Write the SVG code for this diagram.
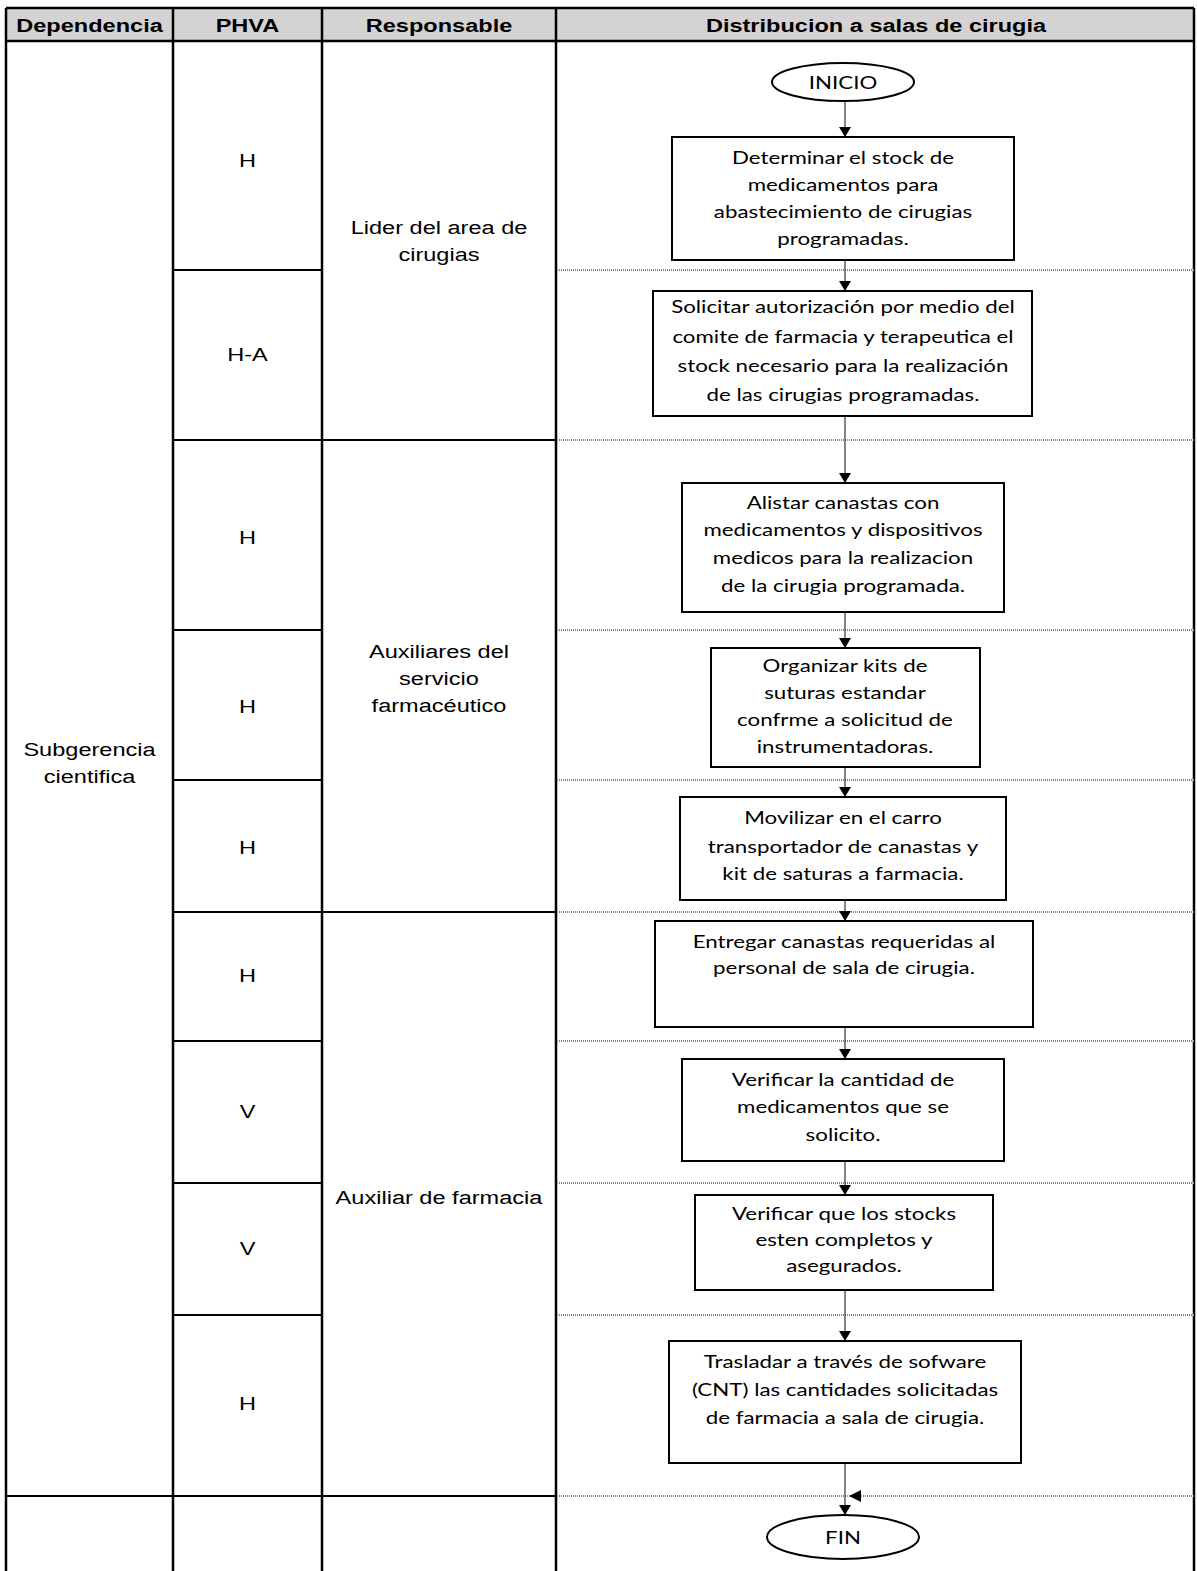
<svg xmlns="http://www.w3.org/2000/svg" width="1197" height="1571" viewBox="0 0 1197 1571">
  <style>
    .hdr { font-family: "Liberation Sans", Arial, sans-serif; font-weight: bold; font-size: 19px; fill: #000; text-anchor: middle; }
    .cell { font-family: "Liberation Sans", Arial, sans-serif; font-size: 19px; fill: #000; text-anchor: middle; }
    .flow { font-family: Lato, "Open Sans", sans-serif; font-size: 18px; fill: #000; text-anchor: middle; }
    .grid { stroke: #000; stroke-width: 2.5; fill: none; }
    .row { stroke: #000; stroke-width: 2; fill: none; }
    .dots { stroke: #8a8a8a; stroke-width: 2; stroke-dasharray: 1 1; fill: none; }
    .box { fill: #fff; stroke: #000; stroke-width: 2; }
    .conn { stroke: #333; stroke-width: 1.2; fill: none; }
  </style>
  <defs>
    <marker id="arrow" viewBox="0 0 10 12" refX="10" refY="6" markerWidth="10" markerHeight="12" markerUnits="userSpaceOnUse" orient="auto">
      <path d="M0,0 L10,6 L0,12 Z" fill="#000"/>
    </marker>
  </defs>

  <rect width="1197" height="1571" fill="#fff"/>

  <!-- header band -->
  <rect x="6" y="8" width="1188" height="33" fill="#d4d2d2"/>

  <!-- lane grid -->
  <g id="grid">
    <line class="grid" x1="6" y1="8" x2="1194" y2="8"/>
    <line class="grid" x1="6" y1="41" x2="1194" y2="41"/>
    <line class="grid" x1="6" y1="8" x2="6" y2="1571"/>
    <line class="grid" x1="173" y1="8" x2="173" y2="1571"/>
    <line class="grid" x1="322" y1="8" x2="322" y2="1571"/>
    <line class="grid" x1="556" y1="8" x2="556" y2="1571"/>
    <line class="grid" x1="1194" y1="8" x2="1194" y2="1571"/>
    <!-- PHVA row separators -->
    <line class="row" x1="173" y1="270" x2="322" y2="270"/>
    <line class="row" x1="173" y1="630" x2="322" y2="630"/>
    <line class="row" x1="173" y1="780" x2="322" y2="780"/>
    <line class="row" x1="173" y1="1041" x2="322" y2="1041"/>
    <line class="row" x1="173" y1="1183" x2="322" y2="1183"/>
    <line class="row" x1="173" y1="1315" x2="322" y2="1315"/>
    <!-- responsible-group separators -->
    <line class="row" x1="173" y1="440" x2="556" y2="440"/>
    <line class="row" x1="173" y1="912" x2="556" y2="912"/>
    <line class="row" x1="6" y1="1496" x2="556" y2="1496"/>
    <!-- dotted separators in the flow lane -->
    <line class="dots" x1="557" y1="270" x2="1194" y2="270"/>
    <line class="dots" x1="557" y1="440" x2="1194" y2="440"/>
    <line class="dots" x1="557" y1="630" x2="1194" y2="630"/>
    <line class="dots" x1="557" y1="780" x2="1194" y2="780"/>
    <line class="dots" x1="557" y1="912" x2="1194" y2="912"/>
    <line class="dots" x1="557" y1="1041" x2="1194" y2="1041"/>
    <line class="dots" x1="557" y1="1183" x2="1194" y2="1183"/>
    <line class="dots" x1="557" y1="1315" x2="1194" y2="1315"/>
    <line class="dots" x1="557" y1="1496" x2="1194" y2="1496"/>
  </g>

  <!-- column headings -->
  <g id="headings">
    <g transform="translate(89.5 0) scale(1.24 1)"><text class="hdr" x="0" y="32">Dependencia</text></g>
    <g transform="translate(247.5 0) scale(1.24 1)"><text class="hdr" x="0" y="32">PHVA</text></g>
    <g transform="translate(439 0) scale(1.24 1)"><text class="hdr" x="0" y="32">Responsable</text></g>
    <g transform="translate(876 0) scale(1.24 1)"><text class="hdr" x="0" y="32">Distribucion a salas de cirugia</text></g>
  </g>

  <!-- Dependencia -->
  <g id="dependencia" transform="translate(89.5 0) scale(1.24 1)">
    <text class="cell" x="0" y="756">Subgerencia</text>
    <text class="cell" x="0" y="783">cientifica</text>
  </g>

  <!-- PHVA -->
  <g id="phva" transform="translate(247.5 0) scale(1.24 1)">
    <text class="cell" x="0" y="167">H</text>
    <text class="cell" x="0" y="361">H-A</text>
    <text class="cell" x="0" y="544">H</text>
    <text class="cell" x="0" y="713">H</text>
    <text class="cell" x="0" y="854">H</text>
    <text class="cell" x="0" y="982">H</text>
    <text class="cell" x="0" y="1118">V</text>
    <text class="cell" x="0" y="1255">V</text>
    <text class="cell" x="0" y="1410">H</text>
  </g>

  <!-- Responsable -->
  <g id="responsable" transform="translate(439 0) scale(1.24 1)">
    <text class="cell" x="0" y="234">Lider del area de</text>
    <text class="cell" x="0" y="261">cirugias</text>
    <text class="cell" x="0" y="658">Auxiliares del</text>
    <text class="cell" x="0" y="685">servicio</text>
    <text class="cell" x="0" y="712">farmacéutico</text>
    <text class="cell" x="0" y="1204">Auxiliar de farmacia</text>
  </g>

  <!-- connectors -->
  <g id="connectors">
    <line class="conn" x1="845" y1="101" x2="845" y2="137" marker-end="url(#arrow)"/>
    <line class="conn" x1="845" y1="260" x2="845" y2="291" marker-end="url(#arrow)"/>
    <line class="conn" x1="845" y1="416" x2="845" y2="483" marker-end="url(#arrow)"/>
    <line class="conn" x1="845" y1="612" x2="845" y2="648" marker-end="url(#arrow)"/>
    <line class="conn" x1="845" y1="767" x2="845" y2="797" marker-end="url(#arrow)"/>
    <line class="conn" x1="845" y1="900" x2="845" y2="921" marker-end="url(#arrow)"/>
    <line class="conn" x1="845" y1="1027" x2="845" y2="1059" marker-end="url(#arrow)"/>
    <line class="conn" x1="845" y1="1161" x2="845" y2="1195" marker-end="url(#arrow)"/>
    <line class="conn" x1="845" y1="1290" x2="845" y2="1341" marker-end="url(#arrow)"/>
    <line class="conn" x1="845" y1="1463" x2="845" y2="1515" marker-end="url(#arrow)"/>
    <path d="M849,1496 L861,1490 L861,1502 Z" fill="#000"/>
  </g>

  <!-- flow nodes -->
  <g id="inicio">
    <ellipse class="box" cx="843" cy="82" rx="71" ry="19"/>
    <g transform="translate(843 0) scale(1.24 1)"><text class="flow" x="0" y="89">INICIO</text></g>
  </g>

  <g id="step1">
    <rect class="box" x="672" y="137" width="342" height="123"/>
    <g transform="translate(843 0) scale(1.24 1)">
      <text class="flow" x="0" y="164">Determinar el stock de</text>
      <text class="flow" x="0" y="191">medicamentos para</text>
      <text class="flow" x="0" y="218">abastecimiento de cirugias</text>
      <text class="flow" x="0" y="245">programadas.</text>
    </g>
  </g>

  <g id="step2">
    <rect class="box" x="653" y="291" width="379" height="125"/>
    <g transform="translate(843 0) scale(1.24 1)">
      <text class="flow" x="0" y="313">Solicitar autorización por medio del</text>
      <text class="flow" x="0" y="343">comite de farmacia y terapeutica el</text>
      <text class="flow" x="0" y="372">stock necesario para la realización</text>
      <text class="flow" x="0" y="401">de las cirugias programadas.</text>
    </g>
  </g>

  <g id="step3">
    <rect class="box" x="682" y="483" width="322" height="129"/>
    <g transform="translate(843 0) scale(1.24 1)">
      <text class="flow" x="0" y="509">Alistar canastas con</text>
      <text class="flow" x="0" y="536">medicamentos y dispositivos</text>
      <text class="flow" x="0" y="564">medicos para la realizacion</text>
      <text class="flow" x="0" y="592">de la cirugia programada.</text>
    </g>
  </g>

  <g id="step4">
    <rect class="box" x="711" y="648" width="269" height="119"/>
    <g transform="translate(845 0) scale(1.24 1)">
      <text class="flow" x="0" y="672">Organizar kits de</text>
      <text class="flow" x="0" y="699">suturas estandar</text>
      <text class="flow" x="0" y="726">confrme a solicitud de</text>
      <text class="flow" x="0" y="753">instrumentadoras.</text>
    </g>
  </g>

  <g id="step5">
    <rect class="box" x="680" y="797" width="326" height="103"/>
    <g transform="translate(843 0) scale(1.24 1)">
      <text class="flow" x="0" y="824">Movilizar en el carro</text>
      <text class="flow" x="0" y="853">transportador de canastas y</text>
      <text class="flow" x="0" y="880">kit de saturas a farmacia.</text>
    </g>
  </g>

  <g id="step6">
    <rect class="box" x="655" y="921" width="378" height="106"/>
    <g transform="translate(844 0) scale(1.24 1)">
      <text class="flow" x="0" y="948">Entregar canastas requeridas al</text>
      <text class="flow" x="0" y="974">personal de sala de cirugia.</text>
    </g>
  </g>

  <g id="step7">
    <rect class="box" x="682" y="1059" width="322" height="102"/>
    <g transform="translate(843 0) scale(1.24 1)">
      <text class="flow" x="0" y="1086">Verificar la cantidad de</text>
      <text class="flow" x="0" y="1113">medicamentos que se</text>
      <text class="flow" x="0" y="1141">solicito.</text>
    </g>
  </g>

  <g id="step8">
    <rect class="box" x="695" y="1195" width="298" height="95"/>
    <g transform="translate(844 0) scale(1.24 1)">
      <text class="flow" x="0" y="1220">Verificar que los stocks</text>
      <text class="flow" x="0" y="1246">esten completos y</text>
      <text class="flow" x="0" y="1272">asegurados.</text>
    </g>
  </g>

  <g id="step9">
    <rect class="box" x="669" y="1341" width="352" height="122"/>
    <g transform="translate(845 0) scale(1.24 1)">
      <text class="flow" x="0" y="1368">Trasladar a través de sofware</text>
      <text class="flow" x="0" y="1396">(CNT) las cantidades solicitadas</text>
      <text class="flow" x="0" y="1424">de farmacia a sala de cirugia.</text>
    </g>
  </g>

  <g id="fin">
    <ellipse class="box" cx="843" cy="1537" rx="76" ry="22"/>
    <g transform="translate(843 0) scale(1.24 1)"><text class="flow" x="0" y="1544">FIN</text></g>
  </g>
</svg>
